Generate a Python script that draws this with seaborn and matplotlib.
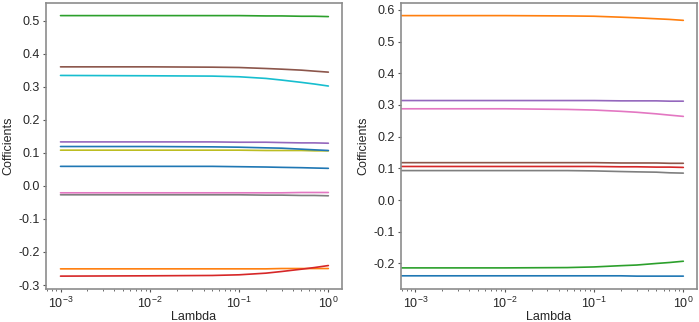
import numpy as np
import pandas as pd
import matplotlib
matplotlib.use("Agg")
import matplotlib.pyplot as plt
import seaborn as sns

# lambda grids (right panel starts slightly lower)
lambdas_left = [0.001, 0.01, 0.05, 0.1, 0.2, 0.3, 0.5, 0.7, 1.0]
lambdas_right = [0.0007, 0.001, 0.01, 0.05, 0.1, 0.2, 0.3, 0.5, 0.7, 1.0]

# left panel: 11 coefficient paths
coef_left = {
    "x1": [0.059, 0.059, 0.059, 0.058, 0.057, 0.056, 0.055, 0.054, 0.053],
    "x2": [-0.251, -0.251, -0.251, -0.251, -0.251, -0.250, -0.250, -0.250, -0.250],
    "x3": [0.515, 0.515, 0.515, 0.515, 0.514, 0.514, 0.513, 0.513, 0.512],
    "x4": [-0.273, -0.272, -0.271, -0.269, -0.264, -0.259, -0.252, -0.247, -0.241],
    "x5": [0.133, 0.133, 0.133, 0.132, 0.132, 0.131, 0.130, 0.130, 0.129],
    "x6": [0.360, 0.360, 0.359, 0.358, 0.355, 0.353, 0.350, 0.347, 0.344],
    "x7": [-0.021, -0.021, -0.021, -0.021, -0.021, -0.021, -0.020, -0.020, -0.020],
    "x8": [-0.027, -0.027, -0.027, -0.027, -0.028, -0.028, -0.029, -0.029, -0.030],
    "x9": [0.108, 0.108, 0.108, 0.108, 0.107, 0.107, 0.107, 0.106, 0.106],
    "x10": [0.334, 0.333, 0.332, 0.330, 0.325, 0.320, 0.313, 0.308, 0.302],
    "x11": [0.119, 0.119, 0.118, 0.117, 0.115, 0.114, 0.111, 0.109, 0.107],
}

# right panel: 8 coefficient paths
coef_right = {
    "x1": [-0.239, -0.239, -0.239, -0.239, -0.239, -0.239, -0.240, -0.240, -0.240, -0.240],
    "x2": [0.582, 0.582, 0.582, 0.581, 0.580, 0.577, 0.575, 0.572, 0.570, 0.567],
    "x3": [-0.214, -0.214, -0.214, -0.213, -0.211, -0.207, -0.205, -0.200, -0.197, -0.193],
    "x4": [0.106, 0.106, 0.106, 0.106, 0.106, 0.105, 0.105, 0.104, 0.104, 0.103],
    "x5": [0.314, 0.314, 0.314, 0.314, 0.314, 0.313, 0.313, 0.313, 0.312, 0.312],
    "x6": [0.118, 0.118, 0.118, 0.118, 0.118, 0.117, 0.117, 0.117, 0.116, 0.116],
    "x7": [0.288, 0.288, 0.288, 0.286, 0.284, 0.280, 0.277, 0.272, 0.268, 0.264],
    "x8": [0.093, 0.093, 0.093, 0.093, 0.092, 0.090, 0.089, 0.088, 0.086, 0.085],
}


def to_long(lams, coefs):
    rows = []
    for name, vals in coefs.items():
        for lam, v in zip(lams, vals):
            rows.append({"lambda": lam, "coef": v, "feature": name})
    return pd.DataFrame(rows)


sns.set_style("ticks")
plt.rcParams["font.family"] = ["Liberation Sans", "DejaVu Sans"]
plt.rcParams["mathtext.default"] = "regular"

tab10 = sns.color_palette("tab10")

fig, axes = plt.subplots(1, 2, figsize=(6.99, 3.22), dpi=100)
fig.subplots_adjust(left=0.066, right=0.997, bottom=0.102, top=0.992, wspace=0.2)

panels = [(lambdas_left, coef_left), (lambdas_right, coef_right)]
for ax, (lams, coefs) in zip(axes, panels):
    df = to_long(lams, coefs)
    pal = [tab10[i % 10] for i in range(len(coefs))]
    sns.lineplot(data=df, x="lambda", y="coef", hue="feature", palette=pal,
                 legend=False, linewidth=1.2, ax=ax)
    ax.set_xscale("log")
    ax.set_xlim(0.00069, 1.42)
    ax.set_xlabel("Lambda", fontsize=9, labelpad=0)
    ax.set_ylabel("Cofficients", fontsize=9, labelpad=3)
    ax.tick_params(axis="both", labelsize=9, length=2.5, width=0.8,
                   color="#555555", pad=2)
    ax.tick_params(axis="x", which="minor", length=1.5, width=0.6, color="#555555")
    for sp in ax.spines.values():
        sp.set_color("#8c8c8c")
        sp.set_linewidth(1.2)

axes[0].set_yticks(np.arange(-0.3, 0.51, 0.1))
axes[1].set_yticks(np.arange(-0.2, 0.61, 0.1))
for ax in axes:
    ax.set_yticklabels([f"{t:.1f}" for t in ax.get_yticks()])

fig.savefig("out.png", dpi=100)
